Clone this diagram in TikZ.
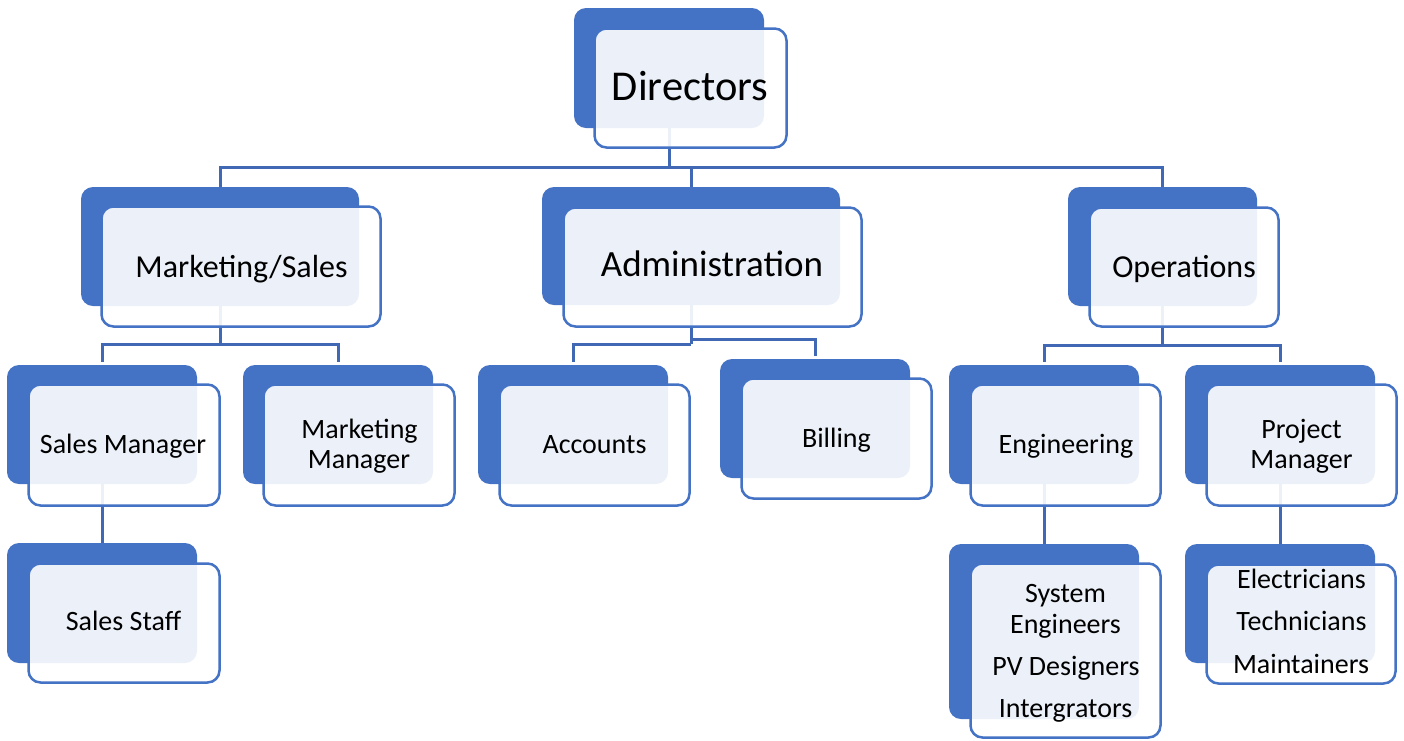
\documentclass[tikz,border=0pt]{standalone}
\usepackage{fontspec}
\setmainfont{Carlito}
\usetikzlibrary{fit,backgrounds}
\definecolor{boxblue}{HTML}{4472C4}
\definecolor{linkblue}{HTML}{4068B5}
\tikzset{
  backbox/.style={fill=boxblue, draw=none, rounded corners=12pt, inner sep=0pt, outer sep=0pt},
  frontbox/.style={draw=boxblue, line width=2.5pt, fill=white, fill opacity=0.9, rounded corners=12pt, inner sep=0pt, outer sep=0pt},
  link/.style={draw=linkblue, line width=3pt},
  txt/.style={anchor=base, inner sep=0pt, text=black},
  fxl/.style={font=\fontsize{42.5}{46}\selectfont},
  fl/.style={font=\fontsize{32}{36}\selectfont},
  fla/.style={font=\fontsize{37}{40}\selectfont},
  fs/.style={font=\fontsize{28}{30}\selectfont}
}
\newcommand\orgbox[9]{%
  \node[backbox, fit={(#2,#3) (#4,#5)}] (#1B) {};
  \node[frontbox, fit={(#6,#7) (#8,#9)}] (#1F) {};
}
\begin{document}
\begin{tikzpicture}[x=1pt,y=-1pt]
\useasboundingbox (0,0) rectangle (1404,740);
% boxes
\orgbox{dir}{574}{8}{764}{128}{594.5}{28.5}{786.5}{147.5}
\orgbox{mk}{81}{187}{359}{306}{101.5}{206.5}{380.5}{326.5}
\orgbox{ad}{542}{187}{840}{305}{563.5}{207.5}{861.5}{326.5}
\orgbox{op}{1068}{187}{1257}{306}{1089.5}{207.5}{1278.5}{326.5}
\orgbox{sm}{7}{365}{197}{484}{28.5}{384.5}{219.5}{505.5}
\orgbox{mm}{243}{365}{433}{484}{263.5}{384.5}{454.5}{505.5}
\orgbox{ac}{478}{365}{668}{484}{499.5}{384.5}{689.5}{505.5}
\orgbox{bi}{720}{359}{910}{478}{741.5}{378.5}{931.5}{498.5}
\orgbox{en}{949}{365}{1139}{484}{970.5}{384.5}{1160.5}{505.5}
\orgbox{pm}{1185}{365}{1375}{484}{1206.5}{384.5}{1396.5}{505.5}
\orgbox{ss}{7}{543}{197}{663}{28.5}{563.5}{219.5}{682.5}
\orgbox{se}{949}{544}{1139}{719}{970.5}{563.5}{1160.5}{737.5}
\orgbox{el}{1185}{544}{1375}{663}{1206.5}{564.5}{1395.5}{683.5}
% connectors (behind)
\begin{pgfonlayer}{background}
\coordinate (bus1) at (669,167);
\coordinate (bus2) at (220,344);
\coordinate (bus3) at (691,344);
\coordinate (bus3b) at (691,339);
\coordinate (bus4) at (1162.5,345);
\draw[link] (dirB.south) -- (bus1);
\draw[link] (mkB.north) |- (bus1);
\draw[link] (adB.north) |- (bus1);
\draw[link] (opB.north) |- (bus1);
\draw[link] (mkB.south) -- (bus2);
\draw[link, shorten <=3pt] (smB.north) |- (bus2);
\draw[link, shorten <=3pt] (mmB.north) |- (bus2);
\draw[link] (adB.south) -- (bus3);
\draw[link, shorten <=3pt] (acB.north) |- (bus3);
\draw[link, shorten <=3pt] (biB.north) |- (bus3b);
\draw[link] (opB.south) -- (bus4);
\draw[link, shorten <=3pt] (enB.north) |- (bus4);
\draw[link, shorten <=3pt] (pmB.north) |- (bus4);
\draw[link] (smB.south) -- (ssB.north);
\draw[link] (enB.south) -- (seB.north);
\draw[link] (pmB.south) -- (elB.north);
\end{pgfonlayer}
% texts
\node[txt, fxl] (dirT) at (690,100) {Directors};
\node[txt, fl] (mkT) at (241.5,277) {Marketing/Sales};
\node[txt, fla] (adT) at (712,276) {Administration};
\node[txt, fl] (opT) at (1184,277) {Operations};
\node[txt, fs] (smT) at (123,453) {Sales Manager};
\node[txt, fs] (mmT1) at (359.5,438) {Marketing};
\node[txt, fs] (mmT2) at (359,468) {Manager};
\node[txt, fs] (acT) at (594.5,453) {Accounts};
\node[txt, fs] (biT) at (836.5,447) {Billing};
\node[txt, fs] (enT) at (1066,453) {Engineering};
\node[txt, fs] (pmT1) at (1301.5,438) {Project};
\node[txt, fs] (pmT2) at (1301.5,468) {Manager};
\node[txt, fs] (ssT) at (123.5,630) {Sales Staff};
\node[txt, fs] (seT1) at (1065.5,602) {System};
\node[txt, fs] (seT2) at (1065.5,633) {Engineers};
\node[txt, fs] (seT3) at (1066,675) {PV Designers};
\node[txt, fs] (seT4) at (1065.5,717) {Intergrators};
\node[txt, fs] (elT1) at (1301.5,588) {Electricians};
\node[txt, fs] (elT2) at (1301.5,630) {Technicians};
\node[txt, fs] (elT3) at (1301,673) {Maintainers};
\end{tikzpicture}
\end{document}
